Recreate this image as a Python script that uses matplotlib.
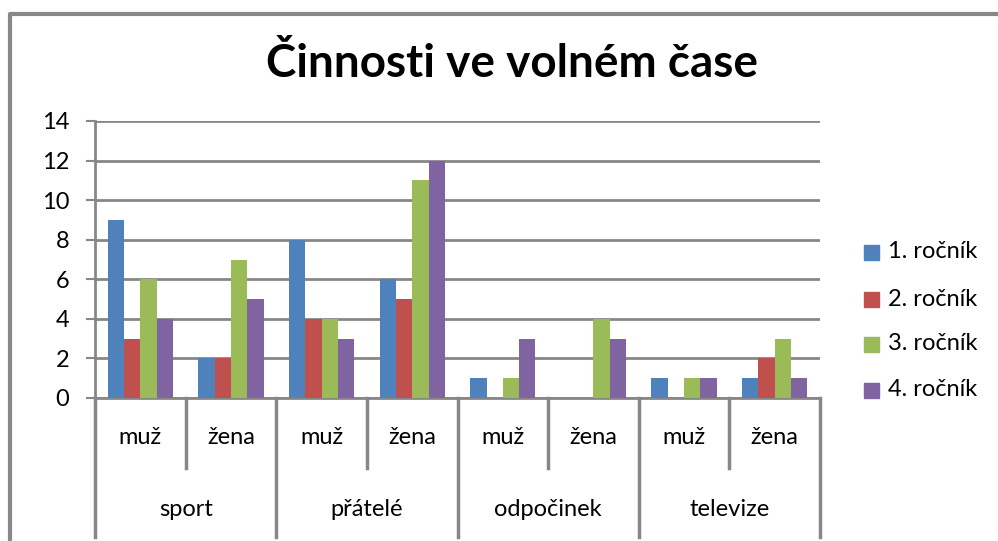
import matplotlib
matplotlib.use("Agg")
import matplotlib.pyplot as plt
import numpy as np

plt.rcParams['font.family'] = ['Lato', 'DejaVu Sans']

# data
activities = ["sport", "přátelé", "odpočinek", "televize"]
genders = ["muž", "žena"]
series_names = ["1. ročník", "2. ročník", "3. ročník", "4. ročník"]
rocnik1 = [9, 2, 8, 6, 1, 0, 1, 1]
rocnik2 = [3, 2, 4, 5, 0, 0, 0, 2]
rocnik3 = [6, 7, 4, 11, 1, 4, 1, 3]
rocnik4 = [4, 5, 3, 12, 3, 3, 1, 1]
colors = ["#4F81BD", "#C0504D", "#9BBB59", "#8064A2"]

W, H = 998, 541
fig = plt.figure(figsize=(W / 100, H / 100), dpi=100)

# plot area in pixels
left, right, top, bottom = 95, 820, 121, 398
ax = fig.add_axes([left / W, 1 - bottom / H, (right - left) / W, (bottom - top) / H])
axh = bottom - top

grid_c = "#878787"
fs = 17
values = [rocnik1, rocnik2, rocnik3, rocnik4]
n = len(rocnik1)
x = np.arange(n)
bw = 0.18
for i, (vals, c, name) in enumerate(zip(values, colors, series_names)):
    ax.bar(x + (i - 1.5) * bw, vals, width=bw, color=c, label=name, zorder=3)

ax.set_xlim(-0.5, n - 0.5)
ax.set_ylim(0, 14)
ax.set_yticks(range(0, 15, 2))
ax.yaxis.grid(True, color=grid_c, linewidth=2, zorder=0)
ax.set_axisbelow(True)
ax.tick_params(axis="y", length=6.5, width=1.5, color=grid_c, labelsize=fs, pad=12)
ax.set_xticks([])
for s in ["top", "right"]:
    ax.spines[s].set_visible(False)
for s in ["left", "bottom"]:
    ax.spines[s].set_color(grid_c)
    ax.spines[s].set_linewidth(2)

# two-level category axis
trans = ax.get_xaxis_transform()
inner_y = -(468 - bottom) / axh
outer_y = -(537 - bottom) / axh
for b in np.arange(-0.5, n, 1.0):
    k = int(b + 0.5)
    yb = outer_y if k % 2 == 0 else inner_y
    ax.plot([b, b], [0, yb], transform=trans, color=grid_c, lw=2.5, clip_on=False)
for i in range(n):
    ax.text(i, -(438 - bottom) / axh, genders[i % 2], transform=trans,
            ha="center", va="center", fontsize=fs)
for j, a in enumerate(activities):
    ax.text(2 * j + 0.5, -(510 - bottom) / axh, a, transform=trans,
            ha="center", va="center", fontsize=fs)

fig.text(512 / W, 1 - 64 / H, "Činnosti ve volném čase", ha="center", va="center",
         fontsize=33, fontweight="bold")

# legend
leg_y = [252, 299, 344, 390]
for name, c, yy in zip(series_names, colors, leg_y):
    fig.patches.append(plt.Rectangle((864 / W, 1 - (yy + 7.5) / H), 15 / W, 15 / H,
                                     transform=fig.transFigure, color=c))
    fig.text(888 / W, 1 - yy / H, name, ha="left", va="center", fontsize=fs)

# chart border (top and left visible)
fig.add_artist(plt.Line2D([10 / W, 10 / W, 1], [0, 1 - 14 / H, 1 - 14 / H],
                          transform=fig.transFigure, color="#888888", lw=3))

fig.savefig("out.png", dpi=100)
